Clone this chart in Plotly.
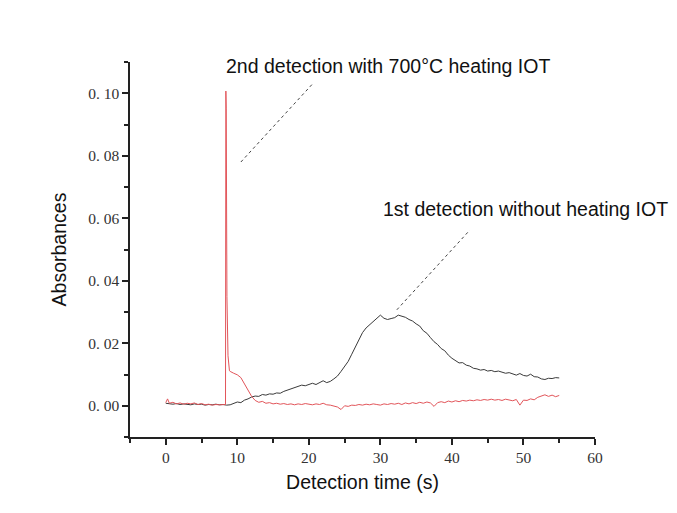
import plotly.graph_objects as go

# Detection time (s) and absorbance for the two runs
time_first = [i * 0.5 for i in range(111)]
abs_first = [
    0.0008, 0.0006, 0.0005, 0.0007, 0.0004, 0.0006, 0.0005, 0.0003, 0.0006, 0.0004,
    0.0005, 0.0002, 0.0004, 0.0003, 0.0005, 0.0003, 0.0004, 0.0002, 0.0003, 0.0007,
    0.0012, 0.0010, 0.0018, 0.0022, 0.0028, 0.0031, 0.0030, 0.0036, 0.0034, 0.0038,
    0.0037, 0.0041, 0.0040, 0.0046, 0.0050, 0.0055, 0.0058, 0.0063, 0.0066, 0.0064,
    0.0069, 0.0072, 0.0068, 0.0075, 0.0080, 0.0074, 0.0078, 0.0086, 0.0095, 0.0110,
    0.0126, 0.0142, 0.0165, 0.0188, 0.0212, 0.0234, 0.0249, 0.0260, 0.0268, 0.0280,
    0.0290, 0.0280, 0.0276, 0.0279, 0.0282, 0.0290, 0.0286, 0.0283, 0.0276, 0.0271,
    0.0262, 0.0255, 0.0240, 0.0232, 0.0218, 0.0205, 0.0196, 0.0183, 0.0176, 0.0162,
    0.0152, 0.0143, 0.0137, 0.0138, 0.0130, 0.0127, 0.0120, 0.0118, 0.0114, 0.0116,
    0.0111, 0.0113, 0.0109, 0.0111, 0.0107, 0.0104, 0.0106, 0.0101, 0.0098, 0.0103,
    0.0097, 0.0095, 0.0101, 0.0093, 0.0092, 0.0086, 0.0084, 0.0088, 0.0087, 0.0090,
    0.0089,
]

time_second = (
    [0.0, 0.25]
    + [0.5 * i for i in range(1, 17)]
    + [8.35, 8.4, 8.45, 8.55, 8.7, 8.9]
    + [9.0 + 0.5 * i for i in range(93)]
)
abs_second = [
    0.0010, 0.0022,
    0.0008, 0.0011, 0.0006, 0.0009, 0.0005, 0.0008, 0.0006, 0.0009,
    0.0004, 0.0007, 0.0003, 0.0005, 0.0002, 0.0004, 0.0003, 0.0004,
    0.0004, 0.1007, 0.0950, 0.0350, 0.0160, 0.0112,
    0.0110, 0.0104, 0.0099, 0.0090, 0.0070, 0.0046, 0.0030, 0.0017, 0.0011, 0.0014,
    0.0008, 0.0010, 0.0006, 0.0008, 0.0005, 0.0007, 0.0004, 0.0006, 0.0003, 0.0006,
    0.0004, 0.0007, 0.0005, 0.0003, 0.0006, 0.0004, 0.0008, 0.0003, 0.0002, -0.0001,
    -0.0004, -0.0012, 0.0000, -0.0002, 0.0002, 0.0001, 0.0004, 0.0002, 0.0005, 0.0003,
    0.0006, 0.0004, 0.0002, 0.0006, 0.0004, 0.0007, 0.0005, 0.0008, 0.0004, 0.0009,
    0.0006, 0.0010, 0.0007, 0.0011, 0.0008, 0.0012, 0.0009, -0.0002, 0.0010, 0.0013,
    0.0010, 0.0015, 0.0012, 0.0016, 0.0013, 0.0017, 0.0015, 0.0018, 0.0016, 0.0019,
    0.0017, 0.0020, 0.0018, 0.0021, 0.0018, 0.0020, 0.0017, 0.0021, 0.0019, 0.0016,
    0.0020, 0.0002, 0.0018, 0.0017, 0.0022, 0.0019, 0.0027, 0.0031, 0.0035, 0.0030,
    0.0034, 0.0029, 0.0033,
]

x_ticks = [0, 10, 20, 30, 40, 50, 60]
y_ticks = [0.00, 0.02, 0.04, 0.06, 0.08, 0.10]
y_tick_labels = ["0. 00", "0. 02", "0. 04", "0. 06", "0. 08", "0. 10"]

label_first = "1st detection without heating IOT"
label_second = "2nd detection with 700°C heating IOT"

fig = go.Figure()
fig.add_trace(go.Scatter(x=time_first, y=abs_first, mode="lines",
                         line=dict(color="#3a3a3a", width=1), name=label_first))
fig.add_trace(go.Scatter(x=time_second, y=abs_second, mode="lines",
                         line=dict(color="#e2555a", width=1), name=label_second))

# Leader lines from the labels to the curves
leader = dict(color="#444444", width=1, dash="3px,3px")
fig.add_shape(type="line", x0=10.5, y0=0.078, x1=20.6, y1=0.1032, line=leader)
fig.add_shape(type="line", x0=32.3, y0=0.0307, x1=42.5, y1=0.0562, line=leader)

label_font = dict(family="Liberation Sans, Arial, sans-serif", size=19.5, color="#111111")
fig.add_annotation(x=8.1, y=0.1087, text=label_second, showarrow=False,
                   xanchor="left", yanchor="middle", font=label_font)
fig.add_annotation(x=30.1, y=0.0629, text=label_first, showarrow=False,
                   xanchor="left", yanchor="middle", font=label_font)

tick_font = dict(family="Liberation Serif, Times New Roman, serif", size=15.5, color="#333333")
axis_common = dict(
    showline=True, linecolor="#222222", linewidth=1.5, mirror=False,
    showgrid=False, zeroline=False, ticks="outside", ticklen=6, tickwidth=1.5,
    tickcolor="#222222", tickfont=tick_font,
)

fig.update_xaxes(
    range=[-5, 60], tickvals=x_ticks,
    minor=dict(dtick=5, tick0=0, ticks="outside", ticklen=4, tickwidth=1.5, tickcolor="#222222"),
    title=dict(text="Detection time (s)", font=label_font, standoff=10),
    **axis_common,
)
fig.update_yaxes(
    range=[-0.01, 0.11], tickvals=y_ticks, ticktext=y_tick_labels,
    minor=dict(dtick=0.01, tick0=0, ticks="outside", ticklen=4, tickwidth=1.5, tickcolor="#222222"),
    title=dict(text="Absorbances", font=label_font, standoff=16),
    **axis_common,
)

fig.update_layout(
    width=677, height=513,
    margin=dict(l=130, r=82, t=62, b=76),
    paper_bgcolor="white", plot_bgcolor="white",
    showlegend=False,
)

fig.write_html("out.html")
